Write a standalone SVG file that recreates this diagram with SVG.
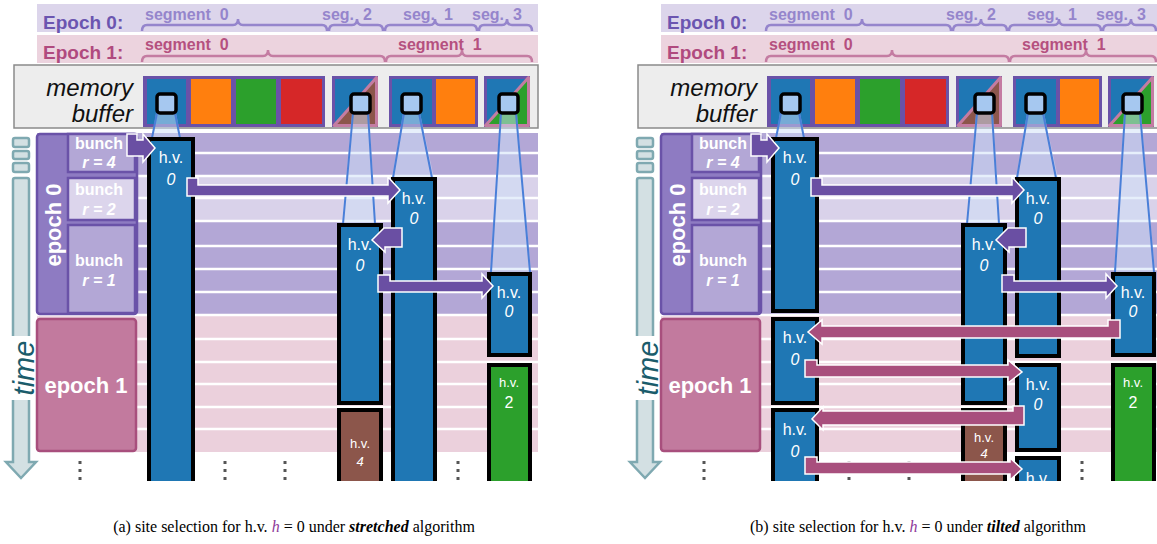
<svg xmlns="http://www.w3.org/2000/svg" width="1157" height="544" viewBox="0 0 1157 544">
<style>
.band0{fill:#dcd5eb}.band1{fill:#ecd3de}
.lbl0{font:bold 19px 'Liberation Sans',Arial,sans-serif;fill:#6b55b0}
.lbl1{font:bold 19px 'Liberation Sans',Arial,sans-serif;fill:#b04a7e}
.sg0{font:bold 16px 'Liberation Sans',Arial,sans-serif;fill:#9585cc;white-space:pre}
.sg1{font:bold 16px 'Liberation Sans',Arial,sans-serif;fill:#b5507f;white-space:pre}
.br0{fill:none;stroke:#9585cc;stroke-width:2.5}
.br1{fill:none;stroke:#c47ca2;stroke-width:2.5}
.mem{fill:#ededed;stroke:#8a8a8a;stroke-width:1.5}
.memtxt{font:italic 24px 'Liberation Sans',Arial,sans-serif;fill:#111;text-anchor:end}
.grp{fill:#6a52a8}
.cb{fill:#1f77b4}.co{fill:#ff7f0e}.cg{fill:#2ca02c}.cr{fill:#d62728}.cn{fill:#8c564b}
.tri{stroke:#c47ca2;stroke-width:3;stroke-linejoin:round}
.sq{fill:#a6c8f0;stroke:#000;stroke-width:3.5}
.beam{fill:#cde0f7;fill-opacity:.5}
.be{stroke:#4a7fd8;stroke-width:2}
.rowD{fill:#b3a7d6}.rowL{fill:#d9d2ea}.rowP{fill:#ebd0dc}
.rl{stroke:#fff;stroke-width:2.5;fill:none}
.col{stroke:#000;stroke-width:4}
.hv{font:16px 'Liberation Sans',Arial,sans-serif;fill:#fff;text-anchor:middle}
.hvs{font:13px 'Liberation Sans',Arial,sans-serif;fill:#fff;text-anchor:middle}
.it{font-style:italic}
.arP{fill:#6a4fa3;stroke:#fff;stroke-width:1.5}
.arK{fill:#a84f7d;stroke:#fff;stroke-width:1.5}
.tm{fill:#d3e0e3;stroke:#7fa9b1;stroke-width:2.5}
.ep0{fill:#8e7bc2;stroke:#6a52a8;stroke-width:2.5}
.bn{stroke:#6a52a8;stroke-width:2.5}
.ep1{fill:#c27a9e;stroke:#a84f7d;stroke-width:2.5}
.wb{font:bold 16px 'Liberation Sans',Arial,sans-serif;fill:#fff;text-anchor:middle}
.wbi{font:bold italic 16px 'Liberation Sans',Arial,sans-serif;fill:#fff;text-anchor:middle}
.wep{font:bold 22px 'Liberation Sans',Arial,sans-serif;fill:#fff;text-anchor:middle}
.dot{fill:#555}
.cap{font:16px 'Liberation Serif','Times New Roman',serif;fill:#000;text-anchor:middle}
</style>
<defs>
<clipPath id="clipB"><rect x="0" y="0" width="1157" height="481"/></clipPath>
<g id="dots"><rect x="-1.5" y="461" width="3" height="3"/><rect x="-1.5" y="469" width="3" height="3"/><rect x="-1.5" y="477" width="3" height="3"/></g>
</defs>

<!-- ===================== PANEL A ===================== -->
<g id="panelA">
<g id="headers-a">
<rect class="band0" x="37" y="4" width="501" height="28"/>
<rect class="band1" x="37" y="35" width="501" height="28"/>
<text class="lbl0" x="43" y="29">Epoch 0:</text>
<text class="lbl1" x="43" y="59">Epoch 1:</text>
<text class="sg0" x="145" y="20">segment  0</text>
<text class="sg0" x="322" y="20">seg.  2</text>
<text class="sg0" x="403" y="20">seg.  1</text>
<text class="sg0" x="472" y="20">seg.  3</text>
<path class="br0" d="M142,31 Q142,25 147,25 H233 Q238,25 238,19 Q238,25 243,25 H322 Q327,25 327,31"/>
<path class="br0" d="M329,31 Q329,25 334,25 H352 Q357,25 357,19 Q357,25 362,25 H378 Q383,25 383,31"/>
<path class="br0" d="M385,31 Q385,25 390,25 H430 Q435,25 435,19 Q435,25 440,25 H472 Q477,25 477,31"/>
<path class="br0" d="M479,31 Q479,25 484,25 H502 Q507,25 507,19 Q507,25 512,25 H527 Q532,25 532,31"/>
<text class="sg1" x="145" y="50">segment  0</text>
<text class="sg1" x="398" y="50">segment  1</text>
<path class="br1" d="M142,62 Q142,56 147,56 H263 Q268,56 268,50 Q268,56 273,56 H380 Q385,56 385,62"/>
<path class="br1" d="M386,62 Q386,56 391,56 H457 Q462,56 462,50 Q462,56 467,56 H527 Q532,56 532,62"/>
</g>
<g id="membuf-a">
<rect class="mem" x="14" y="65" width="524" height="63"/>
<text class="memtxt" x="133" y="96">memory</text>
<text class="memtxt" x="133" y="122">buffer</text>
<rect class="grp" x="143" y="76" width="182" height="51"/>
<rect class="cb" x="147" y="79" width="39" height="45"/>
<rect class="co" x="191" y="79" width="40" height="45"/>
<rect class="cg" x="236" y="79" width="40" height="45"/>
<rect class="cr" x="281" y="79" width="41" height="45"/>
<rect class="grp" x="332" y="76" width="46" height="51"/>
<rect class="cb" x="335" y="79" width="40" height="45"/>
<polygon class="cn tri" points="334,125.5 376.5,125.5 376.5,77.5"/>
<rect class="grp" x="389" y="76" width="89" height="51"/>
<rect class="cb" x="392" y="79" width="40" height="45"/>
<rect class="co" x="436" y="79" width="39" height="45"/>
<rect class="grp" x="484" y="76" width="46" height="51"/>
<rect class="cb" x="487" y="79" width="40" height="45"/>
<polygon class="cg tri" points="485.5,125.5 528.5,125.5 528.5,77.5"/>
</g>
<g id="rows-a">
<rect class="rowD" x="37" y="133" width="501" height="43"/>
<rect class="rowL" x="37" y="176" width="501" height="45"/>
<rect class="rowD" x="37" y="221" width="501" height="94"/>
<rect class="rowP" x="37" y="315" width="501" height="137"/>
<path class="rl" d="M37,153H538M37,176H538M37,198H538M37,221H538M37,246H538M37,269H538M37,292H538M37,315H538M37,339H538M37,362H538M37,384H538M37,407H538M37,429H538"/>
</g>
<g id="time-a">
<rect class="tm" x="13" y="138" width="16" height="9" rx="2"/>
<rect class="tm" x="13" y="151" width="16" height="8" rx="2"/>
<rect class="tm" x="13" y="163" width="16" height="9" rx="2"/>
<path class="tm" d="M13,180 Q13,178 15,178 H27 Q29,178 29,180 V462 H36 L21,478 L6,462 H13 Z"/>
<rect x="10" y="336" width="22" height="64" fill="#fff"/>
<text transform="translate(34,368) rotate(-90)" text-anchor="middle" style="font:italic 29px 'Liberation Sans',Arial,sans-serif;fill:#1a5c6b">time</text>
</g>
<g id="epoch0-a">
<rect class="ep0" x="37" y="134" width="100" height="180" rx="3"/>
<text class="wep" transform="translate(61,225) rotate(-90)">epoch 0</text>
</g>
<g id="bunch4-a"><rect class="bn rowD" x="68" y="134" width="67" height="38"/><text class="wb" x="99" y="149">bunch</text><text class="wbi" x="99" y="168">r = 4</text></g>
<g id="bunch2-a"><rect class="bn" fill="#dcd5ec" x="68" y="178" width="67" height="42"/><text class="wb" x="99" y="195">bunch</text><text class="wbi" x="99" y="215">r = 2</text></g>
<g id="bunch1-a"><rect class="bn rowD" x="68" y="225" width="67" height="88"/><text class="wb" x="99" y="266">bunch</text><text class="wbi" x="99" y="286">r = 1</text></g>
<g id="epoch1-a">
<rect class="ep1" x="37" y="319" width="99" height="132" rx="3"/>
<text class="wep" x="86" y="393">epoch 1</text>
</g>
<g id="dots-a" class="dot">
<use href="#dots" x="80"/><use href="#dots" x="225"/><use href="#dots" x="285"/><use href="#dots" x="458"/>
</g>
<g id="beams-a">
<polygon class="beam" points="156,113 176,113 181,138 152,138"/><path class="be" d="M157,113L152,138M175,113L180,138"/>
<polygon class="beam" points="352,113 369,113 376,224 342,224"/><path class="be" d="M353,113L343,224M368,113L375,224"/>
<polygon class="beam" points="403,113 420,113 434,178 392,178"/><path class="be" d="M404,113L393,178M419,113L432,178"/>
<polygon class="beam" points="500,113 517,113 531,272 490,272"/><path class="be" d="M501,113L491,272M516,113L530,272"/>
<rect class="sq" x="157" y="94" width="19" height="19" rx="3"/>
<rect class="sq" x="351" y="94" width="19" height="19" rx="3"/>
<rect class="sq" x="402" y="94" width="19" height="19" rx="3"/>
<rect class="sq" x="499" y="94" width="19" height="19" rx="3"/>
</g>
<g clip-path="url(#clipB)">
<g id="hv-a1"><rect class="col cb" x="149" y="139" width="44" height="360"/><text class="hv" x="171" y="163">h.v.</text><text class="hv it" x="171" y="185">0</text></g>
<g id="hv-a2"><rect class="col cb" x="339" y="225" width="42" height="178"/><text class="hv" x="360" y="250">h.v.</text><text class="hv it" x="360" y="271">0</text></g>
<g id="hv-a4"><rect class="col cn" x="339" y="410" width="42" height="90"/><text class="hvs" x="360" y="448">h.v.</text><text class="hvs it" x="360" y="466">4</text></g>
<g id="hv-a3"><rect class="col cb" x="393" y="179" width="42" height="320"/><text class="hv" x="414" y="204">h.v.</text><text class="hv it" x="414" y="224">0</text></g>
<g id="hv-a5"><rect class="col cb" x="489" y="274" width="41" height="81"/><text class="hv" x="509" y="298">h.v.</text><text class="hv it" x="509" y="317">0</text></g>
<g id="hv-a6"><rect class="col cg" x="489" y="365" width="41" height="135"/><text class="hvs" x="509" y="387">h.v.</text><text class="hv" x="509" y="408">2</text></g>
</g>
<g id="arrows-a">
<polygon class="arP" points="127,134 137,134 137,140 143,140 143,134 155,148 143,162 143,156 127,156"/>
<polygon class="arP" points="187,178 198,178 198,185 388,185 388,177 400,190 388,203 388,196 187,196"/>
<polygon class="arP" points="402,228 402,247 385,247 385,252 372,240 384,228"/>
<polygon class="arP" points="378,275 390,275 390,281 482,281 482,274 493,286 482,298 482,292 378,292"/>
</g>
</g>

<!-- ===================== PANEL B ===================== -->
<g id="panelB" transform="translate(624,0)">
<g id="headers-b">
<rect class="band0" x="37" y="4" width="501" height="28"/>
<rect class="band1" x="37" y="35" width="501" height="28"/>
<text class="lbl0" x="43" y="29">Epoch 0:</text>
<text class="lbl1" x="43" y="59">Epoch 1:</text>
<text class="sg0" x="145" y="20">segment  0</text>
<text class="sg0" x="322" y="20">seg.  2</text>
<text class="sg0" x="403" y="20">seg.  1</text>
<text class="sg0" x="472" y="20">seg.  3</text>
<path class="br0" d="M142,31 Q142,25 147,25 H233 Q238,25 238,19 Q238,25 243,25 H322 Q327,25 327,31"/>
<path class="br0" d="M329,31 Q329,25 334,25 H352 Q357,25 357,19 Q357,25 362,25 H378 Q383,25 383,31"/>
<path class="br0" d="M385,31 Q385,25 390,25 H430 Q435,25 435,19 Q435,25 440,25 H472 Q477,25 477,31"/>
<path class="br0" d="M479,31 Q479,25 484,25 H502 Q507,25 507,19 Q507,25 512,25 H527 Q532,25 532,31"/>
<text class="sg1" x="145" y="50">segment  0</text>
<text class="sg1" x="398" y="50">segment  1</text>
<path class="br1" d="M142,62 Q142,56 147,56 H263 Q268,56 268,50 Q268,56 273,56 H380 Q385,56 385,62"/>
<path class="br1" d="M386,62 Q386,56 391,56 H457 Q462,56 462,50 Q462,56 467,56 H527 Q532,56 532,62"/>
</g>
<g id="membuf-b">
<rect class="mem" x="14" y="65" width="524" height="63"/>
<text class="memtxt" x="133" y="96">memory</text>
<text class="memtxt" x="133" y="122">buffer</text>
<rect class="grp" x="143" y="76" width="182" height="51"/>
<rect class="cb" x="147" y="79" width="39" height="45"/>
<rect class="co" x="191" y="79" width="40" height="45"/>
<rect class="cg" x="236" y="79" width="40" height="45"/>
<rect class="cr" x="281" y="79" width="41" height="45"/>
<rect class="grp" x="332" y="76" width="46" height="51"/>
<rect class="cb" x="335" y="79" width="40" height="45"/>
<polygon class="cn tri" points="334,125.5 376.5,125.5 376.5,77.5"/>
<rect class="grp" x="389" y="76" width="89" height="51"/>
<rect class="cb" x="392" y="79" width="40" height="45"/>
<rect class="co" x="436" y="79" width="39" height="45"/>
<rect class="grp" x="484" y="76" width="46" height="51"/>
<rect class="cb" x="487" y="79" width="40" height="45"/>
<polygon class="cg tri" points="485.5,125.5 528.5,125.5 528.5,77.5"/>
</g>
<g id="rows-b">
<rect class="rowD" x="37" y="133" width="501" height="43"/>
<rect class="rowL" x="37" y="176" width="501" height="45"/>
<rect class="rowD" x="37" y="221" width="501" height="94"/>
<rect class="rowP" x="37" y="315" width="501" height="137"/>
<path class="rl" d="M37,153H538M37,176H538M37,198H538M37,221H538M37,246H538M37,269H538M37,292H538M37,315H538M37,339H538M37,362H538M37,384H538M37,407H538M37,429H538"/>
</g>
<g id="time-b">
<rect class="tm" x="13" y="138" width="16" height="9" rx="2"/>
<rect class="tm" x="13" y="151" width="16" height="8" rx="2"/>
<rect class="tm" x="13" y="163" width="16" height="9" rx="2"/>
<path class="tm" d="M13,180 Q13,178 15,178 H27 Q29,178 29,180 V462 H36 L21,478 L6,462 H13 Z"/>
<rect x="10" y="336" width="22" height="64" fill="#fff"/>
<text transform="translate(34,368) rotate(-90)" text-anchor="middle" style="font:italic 29px 'Liberation Sans',Arial,sans-serif;fill:#1a5c6b">time</text>
</g>
<g id="epoch0-b">
<rect class="ep0" x="37" y="134" width="100" height="180" rx="3"/>
<text class="wep" transform="translate(61,225) rotate(-90)">epoch 0</text>
</g>
<g id="bunch4-b"><rect class="bn rowD" x="68" y="134" width="67" height="38"/><text class="wb" x="99" y="149">bunch</text><text class="wbi" x="99" y="168">r = 4</text></g>
<g id="bunch2-b"><rect class="bn" fill="#dcd5ec" x="68" y="178" width="67" height="42"/><text class="wb" x="99" y="195">bunch</text><text class="wbi" x="99" y="215">r = 2</text></g>
<g id="bunch1-b"><rect class="bn rowD" x="68" y="225" width="67" height="88"/><text class="wb" x="99" y="266">bunch</text><text class="wbi" x="99" y="286">r = 1</text></g>
<g id="epoch1-b">
<rect class="ep1" x="37" y="319" width="99" height="132" rx="3"/>
<text class="wep" x="86" y="393">epoch 1</text>
</g>
<g id="dots-b" class="dot">
<use href="#dots" x="80"/><use href="#dots" x="225"/><use href="#dots" x="285"/><use href="#dots" x="458"/>
</g>
<g id="beams-b">
<polygon class="beam" points="156,113 176,113 181,138 152,138"/><path class="be" d="M157,113L152,138M175,113L180,138"/>
<polygon class="beam" points="352,113 369,113 376,224 342,224"/><path class="be" d="M353,113L343,224M368,113L375,224"/>
<polygon class="beam" points="403,113 420,113 434,178 392,178"/><path class="be" d="M404,113L393,178M419,113L432,178"/>
<polygon class="beam" points="500,113 517,113 531,272 490,272"/><path class="be" d="M501,113L491,272M516,113L530,272"/>
<rect class="sq" x="157" y="94" width="19" height="19" rx="3"/>
<rect class="sq" x="351" y="94" width="19" height="19" rx="3"/>
<rect class="sq" x="402" y="94" width="19" height="19" rx="3"/>
<rect class="sq" x="499" y="94" width="19" height="19" rx="3"/>
</g>
<g clip-path="url(#clipB)">
<g id="hv-b1"><rect class="col cb" x="149" y="139" width="44" height="172"/><text class="hv" x="171" y="163">h.v.</text><text class="hv it" x="171" y="185">0</text></g>
<g id="hv-b1b"><rect class="col cb" x="149" y="319" width="44" height="84"/><text class="hv" x="171" y="343">h.v.</text><text class="hv it" x="171" y="365">0</text></g>
<g id="hv-b1c"><rect class="col cb" x="149" y="410" width="44" height="90"/><text class="hv" x="171" y="435">h.v.</text><text class="hv it" x="171" y="457">0</text></g>
<g id="hv-b2"><rect class="col cb" x="339" y="225" width="42" height="178"/><text class="hv" x="360" y="250">h.v.</text><text class="hv it" x="360" y="271">0</text></g>
<g id="hv-b4"><rect class="col cn" x="339" y="410" width="42" height="90"/><text class="hvs" x="360" y="442">h.v.</text><text class="hvs it" x="360" y="458">4</text></g>
<g id="hv-b3"><rect class="col cb" x="393" y="179" width="42" height="177"/><text class="hv" x="414" y="204">h.v.</text><text class="hv it" x="414" y="224">0</text></g>
<g id="hv-b3b"><rect class="col cb" x="393" y="365" width="42" height="85"/><text class="hv" x="414" y="390">h.v.</text><text class="hv it" x="414" y="410">0</text></g>
<g id="hv-b3c"><rect class="col cb" x="393" y="458" width="42" height="40"/><text class="hv" x="414" y="484">h.v.</text></g>
<g id="hv-b5"><rect class="col cb" x="489" y="274" width="41" height="81"/><text class="hv" x="509" y="298">h.v.</text><text class="hv it" x="509" y="317">0</text></g>
<g id="hv-b6"><rect class="col cg" x="489" y="365" width="41" height="135"/><text class="hvs" x="509" y="387">h.v.</text><text class="hv" x="509" y="408">2</text></g>
</g>
<g id="arrows-b" clip-path="url(#clipB)">
<polygon class="arP" points="127,134 137,134 137,140 143,140 143,134 155,148 143,162 143,156 127,156"/>
<polygon class="arP" points="187,178 198,178 198,185 388,185 388,177 400,190 388,203 388,196 187,196"/>
<polygon class="arP" points="402,228 402,247 385,247 385,252 372,240 384,228"/>
<polygon class="arP" points="378,275 390,275 390,281 482,281 482,274 493,286 482,298 482,292 378,292"/>
<polygon class="arK" points="496,320 496,338 198,338 198,344 184,332 198,320 198,326 484,326 484,320"/>
<polygon class="arK" points="181,360 193,360 193,365 384,365 384,360 398,372 384,383 384,377 181,377"/>
<polygon class="arK" points="400,406 400,425 199,425 199,430 188,419 199,407 199,411 389,411 389,406"/>
<polygon class="arK" points="181,457 193,457 193,462 386,462 386,458 398,469 386,480 386,474 181,474"/>
</g>
</g>

<g id="captions">
<text class="cap" x="294" y="532">(a) site selection for h.v. <tspan font-style="italic" fill="#8e3a9a">h</tspan> = 0 under <tspan font-weight="bold" font-style="italic">stretched</tspan> algorithm</text>
<text class="cap" x="918" y="532">(b) site selection for h.v. <tspan font-style="italic" fill="#8e3a9a">h</tspan> = 0 under <tspan font-weight="bold" font-style="italic">tilted</tspan> algorithm</text>
</g>
</svg>
